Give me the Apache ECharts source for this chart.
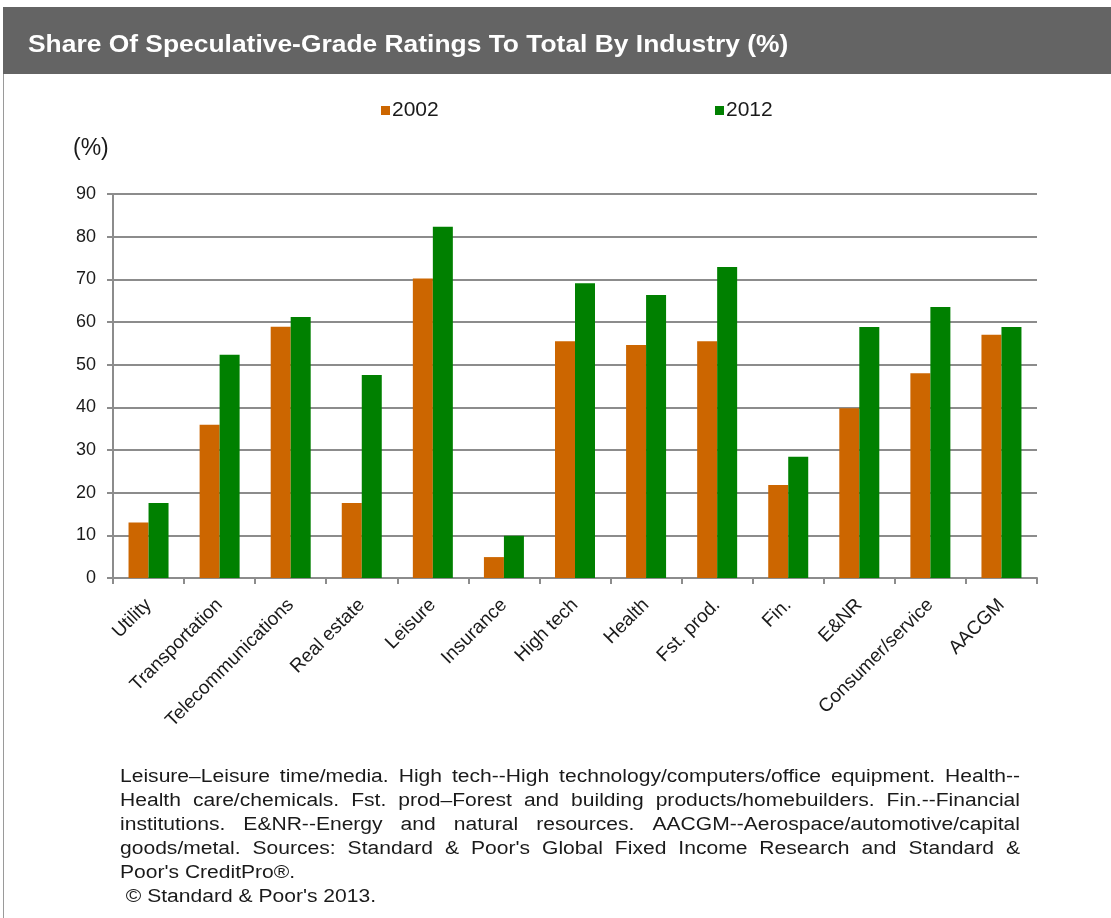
<!DOCTYPE html>
<html>
<head>
<meta charset="utf-8">
<script src="https://cdn.jsdelivr.net/npm/echarts@6/dist/echarts.min.js"></script>
<style>
html,body{margin:0;padding:0;background:#fff;}
#chart{width:1111px;height:918px;}
</style>
</head>
<body>
<div id="chart"></div>
<script>
const categories = ['Utility','Transportation','Telecommunications','Real estate','Leisure','Insurance','High tech','Health','Fst. prod.','Fin.','E&NR','Consumer/service','AACGM'];
const values2002 = [13, 35.9, 58.9, 17.6, 70.2, 4.9, 55.5, 54.6, 55.5, 21.8, 39.8, 48.0, 57.0];
const values2012 = [17.6, 52.3, 61.2, 47.6, 82.3, 9.9, 69.1, 66.3, 72.9, 28.4, 58.8, 63.5, 58.8];
const seriesNames = ['2002', '2012'];
const yTicks = [0, 10, 20, 30, 40, 50, 60, 70, 80, 90];
const titleText = 'Share Of Speculative-Grade Ratings To Total By Industry (%)';
const footerLines = [
  'Leisure–Leisure time/media. High tech--High technology/computers/office equipment. Health--',
  'Health care/chemicals. Fst. prod–Forest and building products/homebuilders. Fin.--Financial',
  'institutions. E&NR--Energy and natural resources. AACGM--Aerospace/automotive/capital',
  "goods/metal. Sources: Standard & Poor's Global Fixed Income Research and Standard &",
  "Poor's CreditPro®.",
  " © Standard & Poor's 2013."
];
const justified = [true, true, true, true, false, false];

const FONT = 'Arial, "Liberation Sans", sans-serif';
const footerFontSize = 18;
const footerScale = 1.17;
const chart = echarts.init(document.getElementById('chart'));

// footer text: justified lines distributed across the text block width
const measureCtx = document.createElement('canvas').getContext('2d');
measureCtx.font = footerFontSize + 'px ' + FONT;
const footerLeft = 120, footerRight = 1020, footerTop = 777, footerStep = 24;
const footerEls = [];
function footerText(str, x, y) {
  return {type: 'text', x: x, y: y, scaleX: footerScale,
    style: {text: str, font: footerFontSize + 'px ' + FONT, fill: '#1a1a1a', textVerticalAlign: 'middle'}};
}
footerLines.forEach((line, i) => {
  const y = footerTop + i * footerStep;
  if (justified[i]) {
    const words = line.split(' ');
    const widths = words.map(w => measureCtx.measureText(w).width * footerScale);
    const total = widths.reduce((a, b) => a + b, 0);
    const gap = (footerRight - footerLeft - total) / (words.length - 1);
    let x = footerLeft;
    words.forEach((w, j) => {
      footerEls.push(footerText(w, x, y));
      x += widths[j] + gap;
    });
  } else {
    footerEls.push(footerText(line, footerLeft, y));
  }
});

const option = {
  backgroundColor: '#ffffff',
  animation: false,
  graphic: [
    {type: 'rect', left: 3, top: 7, shape: {width: 1108, height: 67}, style: {fill: '#646464'}},
    {type: 'line', shape: {x1: 3.5, y1: 74, x2: 3.5, y2: 918}, style: {stroke: '#9a9a9a', lineWidth: 1}},
    {type: 'text', x: 28, y: 45, scaleX: 1.1, style: {text: titleText, font: 'bold 24px ' + FONT, fill: '#ffffff', textVerticalAlign: 'middle'}},
    {type: 'text', x: 73, y: 149, style: {text: '(%)', font: '23px ' + FONT, fill: '#1a1a1a', textVerticalAlign: 'middle'}}
  ].concat(footerEls),
  legend: [
    {data: [seriesNames[0]], left: 376, top: 95, itemWidth: 9, itemHeight: 9, itemGap: 0, icon: 'rect',
     textStyle: {fontSize: 21, fontFamily: FONT, color: '#1a1a1a', padding: [0, 0, 0, -3]}},
    {data: [seriesNames[1]], left: 710, top: 95, itemWidth: 9, itemHeight: 9, itemGap: 0, icon: 'rect',
     textStyle: {fontSize: 21, fontFamily: FONT, color: '#1a1a1a', padding: [0, 0, 0, -3]}}
  ],
  grid: {left: 113, right: 74, top: 194, bottom: 340, containLabel: false},
  xAxis: {
    type: 'category',
    data: categories,
    axisLine: {show: true, lineStyle: {color: '#8c8c8c', width: 2}},
    axisTick: {show: true, length: 6, interval: 0, lineStyle: {color: '#8c8c8c', width: 2}},
    axisLabel: {interval: 0, rotate: 45, margin: 24, fontSize: 19, fontFamily: FONT, color: '#1a1a1a'}
  },
  yAxis: {
    type: 'value',
    min: yTicks[0],
    max: yTicks[yTicks.length - 1],
    interval: 10,
    axisLine: {show: true, lineStyle: {color: '#8c8c8c', width: 2}},
    axisTick: {show: true, length: 6, lineStyle: {color: '#8c8c8c', width: 2}},
    splitLine: {show: true, lineStyle: {color: '#8c8c8c', width: 2}},
    axisLabel: {margin: 17, fontSize: 18, fontFamily: FONT, color: '#1a1a1a'}
  },
  series: [
    {name: seriesNames[0], type: 'bar', data: values2002, barWidth: 20, barGap: '0%', itemStyle: {color: '#CC6600'}},
    {name: seriesNames[1], type: 'bar', data: values2012, barWidth: 20, barGap: '0%', itemStyle: {color: '#008000'}}
  ]
};
chart.setOption(option);
</script>
</body>
</html>
